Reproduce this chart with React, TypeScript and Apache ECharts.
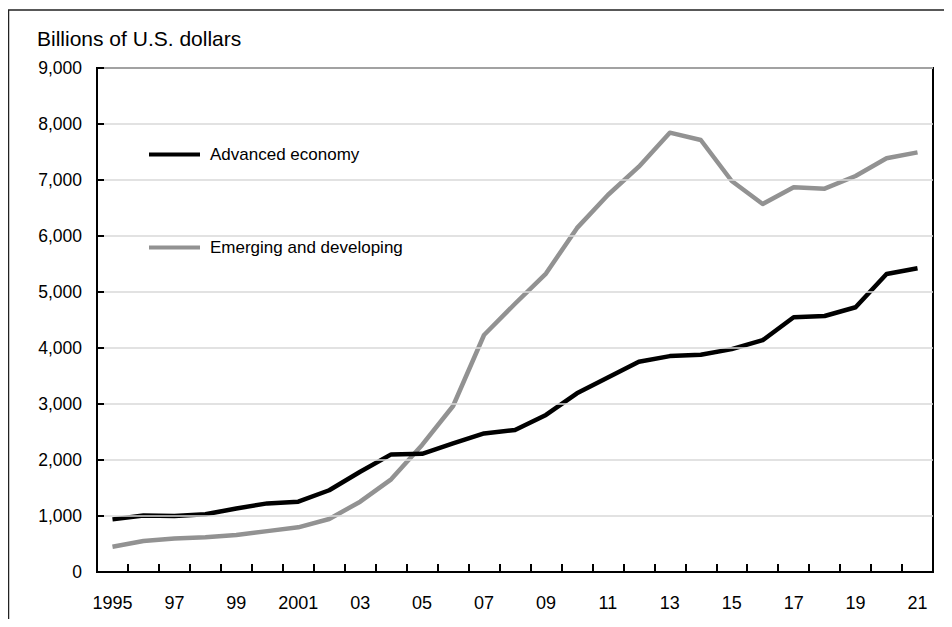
import React, { useEffect, useRef } from "react";
import * as echarts from "echarts";

const years = [
  "1995", "1996", "1997", "1998", "1999", "2000", "2001", "2002", "2003",
  "2004", "2005", "2006", "2007", "2008", "2009", "2010", "2011", "2012",
  "2013", "2014", "2015", "2016", "2017", "2018", "2019", "2020", "2021",
];
const tickLabels: Record<string, string> = {
  "1995": "1995", "1997": "97", "1999": "99", "2001": "2001", "2003": "03",
  "2005": "05", "2007": "07", "2009": "09", "2011": "11", "2013": "13",
  "2015": "15", "2017": "17", "2019": "19", "2021": "21",
};
const advanced = [
  940, 1010, 1000, 1030, 1135, 1225, 1255, 1460, 1790, 2100, 2110, 2295,
  2475, 2535, 2805, 3190, 3475, 3755, 3855, 3880, 3980, 4140, 4548, 4571,
  4727, 5320, 5423,
];
const emerging = [
  452, 553, 598, 620, 660, 730, 798, 946, 1256, 1655, 2270, 2964, 4232,
  4790, 5330, 6140, 6732, 7238, 7845, 7714, 6982, 6571, 6869, 6845, 7071,
  7387, 7494,
];
const yTicks = { min: 0, max: 9000, interval: 1000 };
const titleText = "Billions of U.S. dollars";
const seriesNames = ["Advanced economy", "Emerging and developing"];

const FONT = "'Liberation Sans', Arial, sans-serif";

export default function App() {
  const ref = useRef<HTMLDivElement>(null);
  useEffect(() => {
    if (!ref.current) return;
    const chart = echarts.init(ref.current, null, { renderer: "svg" });
    chart.setOption({
      animation: false,
      backgroundColor: "#fff",
      textStyle: { fontFamily: FONT },
      graphic: [
        {
          type: "rect",
          shape: { x: 0.5, y: 2, width: 1000, height: 1000 },
          style: { fill: "none", stroke: "#222", lineWidth: 1.5 },
          silent: true,
        },
        {
          type: "text",
          left: 29,
          top: 20,
          style: { text: titleText, font: `21px ${FONT}`, fill: "#000" },
        },
      ],
      legend: [
        {
          data: [seriesNames[0]],
          left: 141,
          top: 138,
          padding: 0,
          icon: "rect",
          itemWidth: 51,
          itemHeight: 4,
          itemGap: 10,
          textStyle: { fontSize: 17, color: "#000", fontFamily: FONT, padding: [0, 0, 0, 5] },
        },
        {
          data: [seriesNames[1]],
          left: 141,
          top: 231,
          padding: 0,
          icon: "rect",
          itemWidth: 51,
          itemHeight: 4,
          itemGap: 10,
          textStyle: { fontSize: 17, color: "#000", fontFamily: FONT, padding: [0, 0, 0, 5] },
        },
      ],
      grid: {
        left: 89,
        top: 60,
        right: 11,
        bottom: 47,
        show: true,
        borderColor: "#000",
        borderWidth: 2,
        containLabel: false,
      },
      xAxis: {
        type: "category",
        data: years,
        boundaryGap: true,
        axisLine: { show: true, lineStyle: { color: "#000", width: 2 } },
        axisTick: {
          show: true,
          inside: true,
          length: 8,
          interval: 0,
          alignWithLabel: false,
          lineStyle: { color: "#000", width: 2 },
        },
        axisLabel: {
          interval: 0,
          margin: 22,
          fontSize: 18,
          color: "#000",
          fontFamily: FONT,
          formatter: (v: string) => tickLabels[v] ?? "",
        },
        splitLine: { show: false },
        z: 10,
      },
      yAxis: {
        type: "value",
        min: yTicks.min,
        max: yTicks.max,
        interval: yTicks.interval,
        axisLine: { show: true, lineStyle: { color: "#000", width: 2 } },
        axisTick: {
          show: true,
          inside: true,
          length: 7,
          lineStyle: { color: "#000", width: 2 },
        },
        axisLabel: {
          margin: 15,
          fontSize: 17.5,
          color: "#000",
          fontFamily: FONT,
          formatter: (v: number) => v.toLocaleString("en-US"),
        },
        splitLine: { lineStyle: { color: "#d9d9d9", width: 1.5 } },
        z: 10,
      },
      series: [
        {
          name: seriesNames[0],
          type: "line",
          data: advanced,
          symbol: "none",
          lineStyle: { color: "#000", width: 4.5, join: "round" },
          itemStyle: { color: "#000" },
          z: 3,
        },
        {
          name: seriesNames[1],
          type: "line",
          data: emerging,
          symbol: "none",
          lineStyle: { color: "#929292", width: 4.5, join: "round" },
          itemStyle: { color: "#929292" },
          z: 2,
        },
      ],
    });
    return () => chart.dispose();
  }, []);
  return <div ref={ref} style={{ width: 936, height: 611 }} />;
}
